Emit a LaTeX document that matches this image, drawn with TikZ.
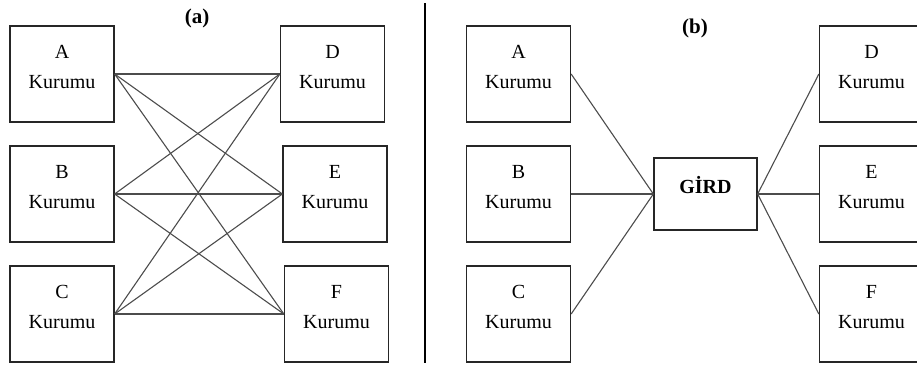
\documentclass[tikz,border=0pt]{standalone}
\usepackage{fontspec}
\setmainfont{Liberation Serif}
\begin{document}
\begin{tikzpicture}[x=1pt,y=-1pt,
  box/.style={draw=black!85, line width=1.3pt, minimum width=104pt, minimum height=96pt, inner sep=0pt},
  conn/.style={draw=black!70, line width=1.1pt},
  lbl/.style={font=\fontsize{20}{24}\selectfont, anchor=base, inner sep=0pt},
  blbl/.style={lbl, font=\bfseries\fontsize{21}{24}\selectfont}]
\useasboundingbox (0,0) rectangle (917,365);
\clip (0,0) rectangle (917,365);
\foreach \n/\l/\x/\y in {A/A/62/74, B/B/62/194, C/C/62/314,
    D/D/332.5/74, E/E/335/194, F/F/336.5/314,
    A2/A/518.5/74, B2/B/518.5/194, C2/C/518.5/314,
    D2/D/871.5/74, E2/E/871.5/194, F2/F/871.5/314} {
  \node[box] (\n) at (\x,\y) {};
  \path (\n.north) ++(0,33) node[lbl] (\n l) {\l} ++(0,30) node[lbl] (\n k) {Kurumu};
}
\node[box, minimum width=103pt, minimum height=72pt] (G) at (705.5,194) {};
\path (G.center) ++(0,-1) node[blbl, font=\bfseries\fontsize{20}{24}\selectfont] (Gt) {GİRD};
\node[blbl] (ta) at (197,23) {(a)};
\node[blbl] (tb) at (695,33) {(b)};
\coordinate (s1) at (425,3);
\coordinate (s2) at (425,363);
\draw[line width=2pt] (s1) -- (s2);
\foreach \a in {A,B,C}
  \foreach \b in {D,E,F}
    \draw[conn] (\a.east) -- (\b.west);
\foreach \a in {A2,B2,C2}
  \draw[conn] (\a.east) -- (G.west);
\foreach \b in {D2,E2,F2}
  \draw[conn] (G.east) -- (\b.west);
\end{tikzpicture}
\end{document}
